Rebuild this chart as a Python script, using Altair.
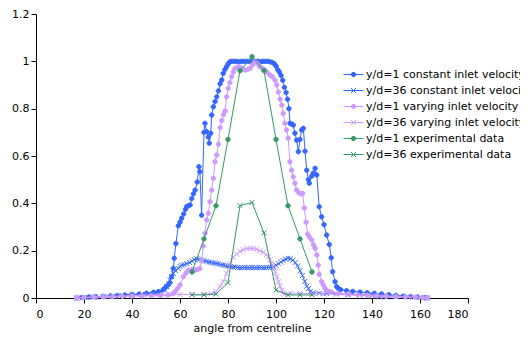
import altair as alt
import pandas as pd

series_names = [
    "y/d=1 constant inlet velocity",
    "y/d=36 constant inlet velocity",
    "y/d=1 varying inlet velocity",
    "y/d=36 varying inlet velocity",
    "y/d=1 experimental data",
    "y/d=36 experimental data",
]
series_colors = ["#3366FF", "#3366FF", "#CC99FF", "#CC99FF", "#339966", "#339966"]
series_markers = ["circle", "x", "circle", "x", "circle", "x"]

const_yd1 = [(17, 0.0), (19, 0.002), (22, 0.004), (25, 0.005), (28, 0.007), (31, 0.009), (34, 0.011),
             (37, 0.013), (40, 0.015), (43, 0.017), (46, 0.02), (49, 0.024), (51, 0.027), (53, 0.035),
             (54, 0.045), (55, 0.055), (55.8, 0.065), (56.5, 0.09), (57.2, 0.125), (57.6, 0.168),
             (58.3, 0.23), (59.3, 0.305), (60, 0.32), (60.7, 0.337), (61.5, 0.355), (62.3, 0.375),
             (62.8, 0.386), (63.5, 0.39), (64.2, 0.393), (64.9, 0.42), (65.6, 0.44), (66.3, 0.456),
             (67.2, 0.49), (67.9, 0.555), (68.3, 0.534), (69, 0.35), (70, 0.70), (70.4, 0.738),
             (71.1, 0.703), (71.8, 0.68), (72.2, 0.654), (72.8, 0.696), (73.2, 0.773), (73.9, 0.808),
             (74.6, 0.83), (75.3, 0.85), (76, 0.875), (76.7, 0.905), (77.4, 0.921), (78, 0.949),
             (78.7, 0.965), (79.4, 0.977), (80.1, 0.99), (80.8, 0.998), (81.5, 1.0), (82.5, 1.0),
             (83.5, 1.0), (84.5, 0.998), (85.5, 1.0), (86.5, 1.0), (87.5, 1.0), (88.5, 1.0),
             (89.5, 1.0), (90.5, 1.0), (91.5, 1.0), (92.5, 1.0), (93.5, 0.998), (94.5, 1.0),
             (95.5, 1.0), (96.5, 1.0), (97.5, 0.998), (98.5, 0.995), (99.3, 0.99), (100, 0.98),
             (100.7, 0.965), (101.4, 0.955), (102.1, 0.94), (102.8, 0.92), (103.5, 0.89),
             (104.2, 0.868), (104.8, 0.84), (105.4, 0.8), (105.8, 0.738), (106.5, 0.735),
             (107.2, 0.731), (107.9, 0.696), (108.6, 0.667), (109.3, 0.618), (110, 0.67),
             (110.7, 0.71), (111.4, 0.717), (112.1, 0.62), (112.8, 0.54), (113.5, 0.5),
             (113.9, 0.485), (114.9, 0.515), (115.5, 0.527), (116.3, 0.548), (117, 0.52),
             (118, 0.386), (119, 0.343), (120, 0.31), (121.1, 0.266), (122.2, 0.226), (123, 0.17),
             (123.6, 0.111), (124.6, 0.069), (125.3, 0.048), (126, 0.04), (127, 0.035),
             (129.4, 0.031), (132, 0.028), (135, 0.025), (138, 0.022), (141, 0.02), (144, 0.017),
             (147, 0.014), (150, 0.011), (153, 0.008), (156, 0.006), (159, 0.004), (162, 0.002),
             (163, 0.0)]

const_yd36 = [(17, 0.0), (20, 0.002), (24, 0.004), (28, 0.006), (32, 0.008), (36, 0.01), (40, 0.012),
              (44, 0.015), (47, 0.018), (50, 0.022), (52, 0.027), (53.5, 0.035), (54.5, 0.048),
              (55.3, 0.06), (55.8, 0.075), (56.5, 0.09), (57.2, 0.104), (58.2, 0.115), (59.3, 0.125),
              (60, 0.133), (60.7, 0.139), (61.7, 0.141), (62.8, 0.145), (64, 0.15), (65, 0.156),
              (66, 0.162), (67, 0.166), (68, 0.163), (69, 0.16), (70, 0.157), (71, 0.155), (72, 0.152),
              (73, 0.15), (74, 0.148), (75, 0.146), (76, 0.144), (77, 0.141), (78, 0.139), (79, 0.137),
              (80, 0.135), (81, 0.133), (82, 0.131), (83, 0.13), (84, 0.129), (85, 0.128), (86, 0.128),
              (87, 0.129), (88, 0.128), (89, 0.128), (90, 0.129), (91, 0.128), (92, 0.128), (93, 0.129),
              (94, 0.128), (95, 0.128), (96, 0.129), (97, 0.129), (98, 0.13), (99, 0.133), (100, 0.138),
              (101, 0.145), (102, 0.152), (103, 0.158), (104, 0.164), (105, 0.168), (106, 0.166),
              (107, 0.16), (108, 0.15), (109, 0.135), (110, 0.115), (111, 0.095), (112, 0.07),
              (112.8, 0.05), (113.5, 0.04), (114.2, 0.027), (115.5, 0.022), (118, 0.02), (121, 0.019),
              (125, 0.018), (130, 0.016), (135, 0.014), (140, 0.012), (143, 0.005), (146, 0.004),
              (150, 0.006), (155, 0.005), (160, 0.003), (163, 0.0)]

vary_yd1 = [(17, 0.0), (20, 0.002), (24, 0.004), (28, 0.005), (32, 0.006), (36, 0.007), (40, 0.008),
            (44, 0.009), (48, 0.01), (52, 0.011), (55, 0.013), (57, 0.018), (58, 0.028), (59, 0.04),
            (60, 0.055), (61.4, 0.09), (62.5, 0.105), (63.5, 0.118), (65, 0.12), (66.3, 0.118),
            (67.3, 0.12), (68.3, 0.125), (69, 0.16), (69.7, 0.22), (70.4, 0.273), (71.1, 0.33),
            (71.8, 0.358), (72.5, 0.407), (73.2, 0.456), (73.9, 0.506), (74.6, 0.576), (75.3, 0.604),
            (76, 0.65), (76.7, 0.72), (77.4, 0.75), (78.1, 0.775), (78.8, 0.79), (79.4, 0.85),
            (80.1, 0.886), (80.8, 0.91), (81.5, 0.935), (82.2, 0.955), (82.9, 0.97), (84, 0.975),
            (85, 0.975), (86, 0.97), (87.1, 0.963), (88.2, 0.966), (89.2, 0.97), (90.2, 0.985),
            (91.2, 0.998), (92.3, 0.99), (93.3, 0.977), (94.4, 0.97), (95.4, 0.963), (96.4, 0.953),
            (97.5, 0.942), (98.5, 0.935), (99.6, 0.92), (100.3, 0.9), (101, 0.87), (101.7, 0.84),
            (102.4, 0.815), (103, 0.78), (103.7, 0.738), (104.4, 0.71), (105.1, 0.675),
            (105.8, 0.576), (106.5, 0.54), (107.2, 0.512), (107.9, 0.485), (108.6, 0.456),
            (109.5, 0.445), (110.4, 0.44), (111.1, 0.442), (111.8, 0.38), (112.5, 0.32),
            (113.2, 0.27), (113.9, 0.258), (114.9, 0.245), (115.6, 0.225), (116.3, 0.21),
            (117, 0.182), (117.6, 0.139), (118, 0.1), (119, 0.069), (119.7, 0.055), (120.4, 0.041),
            (121.5, 0.03), (123, 0.025), (126, 0.02), (130, 0.017), (134, 0.014), (138, 0.012),
            (142, 0.01), (146, 0.008), (150, 0.006), (154, 0.005), (158, 0.003), (161, 0.001),
            (163, 0.0)]

vary_yd36 = [(17, 0.0), (20, 0.002), (25, 0.004), (30, 0.006), (35, 0.008), (40, 0.01), (45, 0.012),
             (50, 0.013), (55, 0.014), (60, 0.015), (65, 0.015), (70, 0.016), (73, 0.018), (75, 0.027),
             (76.7, 0.048), (78, 0.07), (79.4, 0.104), (80.8, 0.146), (82.2, 0.172), (83.6, 0.185),
             (85, 0.197), (86.4, 0.204), (87.8, 0.209), (89.2, 0.21), (90.5, 0.209), (91.9, 0.206),
             (93.3, 0.2), (94.7, 0.193), (96, 0.183), (96.8, 0.175), (97.5, 0.162), (98.2, 0.146),
             (98.9, 0.13), (99.6, 0.111), (100.3, 0.09), (101, 0.069), (101.7, 0.05), (102.4, 0.034),
             (103, 0.02), (103.7, 0.015), (106, 0.02), (110, 0.02), (115, 0.019), (120, 0.017),
             (125, 0.015), (130, 0.013), (135, 0.011), (140, 0.009), (145, 0.007), (150, 0.005),
             (155, 0.004), (160, 0.002), (163, 0.0)]

exp_yd1 = [(65, 0.11), (70, 0.25), (75, 0.39), (80, 0.67), (85, 0.96), (90, 1.02), (95, 0.96),
           (100, 0.67), (105, 0.39), (110, 0.25), (115, 0.11)]

exp_yd36 = [(65, 0.013), (70, 0.013), (75, 0.017), (80, 0.065), (85, 0.39), (90, 0.404), (95, 0.275),
            (100, 0.034), (105, 0.013), (110, 0.013), (115, 0.013)]

all_series = [const_yd1, const_yd36, vary_yd1, vary_yd36, exp_yd1, exp_yd36]
marker_keys = ["m:" + n for n in series_names]

rows = []
for name, mkey, pts in zip(series_names, marker_keys, all_series):
    for i, (a, v) in enumerate(pts):
        rows.append({"series": name, "series_m": mkey, "angle": a, "value": v, "idx": i})
df = pd.DataFrame(rows)

FONT = "DejaVu Sans"
# marker glyphs drawn small inside the unit square, so one symbol size serves both legends
XPATH = "M-0.25,-0.25L0.25,0.25M-0.25,0.25L0.25,-0.25"
CPATH = "M-0.22,0A0.22,0.22 0 1,0 0.22,0A0.22,0.22 0 1,0 -0.22,0Z"
shape_range = [XPATH if m == "x" else CPATH for m in series_markers]

LEG = dict(orient="none", legendX=307, legendY=50, title=None, padding=0,
           labelFont=FONT, labelFontSize=11, labelLimit=400, labelOffset=2,
           symbolSize=400, rowPadding=0, symbolStrokeWidth=1)

line_color = alt.Color(
    "series:N",
    scale=alt.Scale(domain=series_names, range=series_colors),
    legend=alt.Legend(symbolType="stroke", labelColor="black", zindex=1, **LEG),
)
marker_legend = alt.Legend(labelOpacity=0, zindex=2, **LEG)
mscale = alt.Scale(domain=marker_keys, range=series_colors)
pfill = alt.Fill("series_m:N", scale=mscale, legend=marker_legend)
pstroke = alt.Stroke("series_m:N", scale=mscale, legend=marker_legend)
pshape = alt.Shape("series_m:N", scale=alt.Scale(domain=marker_keys, range=shape_range),
                   legend=marker_legend)

X = alt.X("angle:Q", scale=alt.Scale(domain=[0, 180], nice=False),
          axis=alt.Axis(values=list(range(0, 181, 20)), title="angle from centreline"))
Y = alt.Y("value:Q", scale=alt.Scale(domain=[0, 1.2], nice=False),
          axis=alt.Axis(values=[0, 0.2, 0.4, 0.6, 0.8, 1.0, 1.2], format="~g", title=None))

layers = []
for name in series_names:
    sub = alt.Chart(df).transform_filter(alt.datum.series == name)
    layers.append(sub.mark_line(strokeWidth=1).encode(x=X, y=Y, color=line_color, order="idx:Q"))
    layers.append(sub.mark_point(size=400, strokeWidth=1, opacity=1).encode(
        x=X, y=Y, fill=pfill, stroke=pstroke, shape=pshape))

chart = alt.layer(*layers).properties(
    width=432, height=284, autosize="none",
    padding={"left": 28, "top": 6, "right": 52, "bottom": 36},
).configure_view(stroke=None).configure_axis(
    grid=False, domainColor="black", tickColor="black", tickSize=5,
    labelFont=FONT, labelFontSize=11, labelColor="black",
    titleFont=FONT, titleFontSize=11, titleFontWeight="normal", titleColor="black",
).configure_axisX(labelPadding=5, titlePadding=3).configure_axisY(labelPadding=2)

chart.save("out.html", embed_options={"renderer": "svg", "actions": False})
